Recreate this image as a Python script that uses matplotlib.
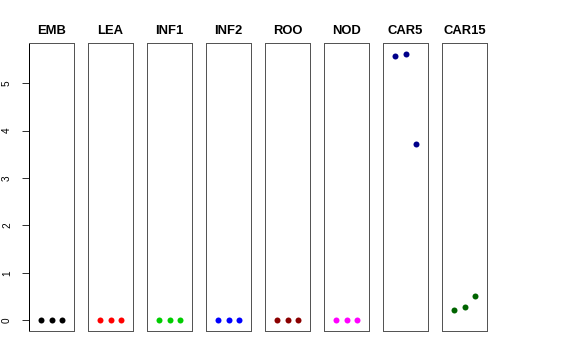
import matplotlib
matplotlib.use("Agg")
import matplotlib.pyplot as plt

tissues = ["EMB", "LEA", "INF1", "INF2", "ROO", "NOD", "CAR5", "CAR15"]
colors = ["black", "red", "#00CD00", "blue", "#8B0000", "magenta", "#00008B", "#006400"]
values = [
    [0, 0, 0],
    [0, 0, 0],
    [0, 0, 0],
    [0, 0, 0],
    [0, 0, 0],
    [0, 0, 0],
    [5.58, 5.62, 3.71],
    [0.21, 0.29, 0.51],
]
reps = [1, 2, 3]
yticks = [0, 1, 2, 3, 4, 5]

plt.rcParams['font.family'] = ['Liberation Sans', 'DejaVu Sans']
W, H = 576, 360
fig = plt.figure(figsize=(W / 72, H / 72), dpi=72)

ymin, ymax = -0.225, 5.845
for i, (name, col, vals) in enumerate(zip(tissues, colors, values)):
    left = 29 + 59 * i
    ax = fig.add_axes([left / W, (H - 331) / H, 45 / W, 288 / H])
    ax.plot(reps, vals, 'o', color=col, ms=6, mec='none')
    ax.set_xlim(-0.18, 4.18)
    ax.set_ylim(ymin, ymax)
    ax.set_xticks([])
    for s in ax.spines.values():
        s.set_color('#555555')
        s.set_linewidth(1)
    ax.set_title(name, fontsize=13, fontweight='bold', pad=9)
    if i == 0:
        ax.set_yticks(yticks)
        ax.set_yticklabels([str(t) for t in yticks], rotation=90, va='center', fontsize=10)
        ax.tick_params(axis='y', length=7, pad=10, color='black')
        ax.spines['left'].set_color('black')
    else:
        ax.set_yticks([])

fig.savefig("out.png", dpi=72)
